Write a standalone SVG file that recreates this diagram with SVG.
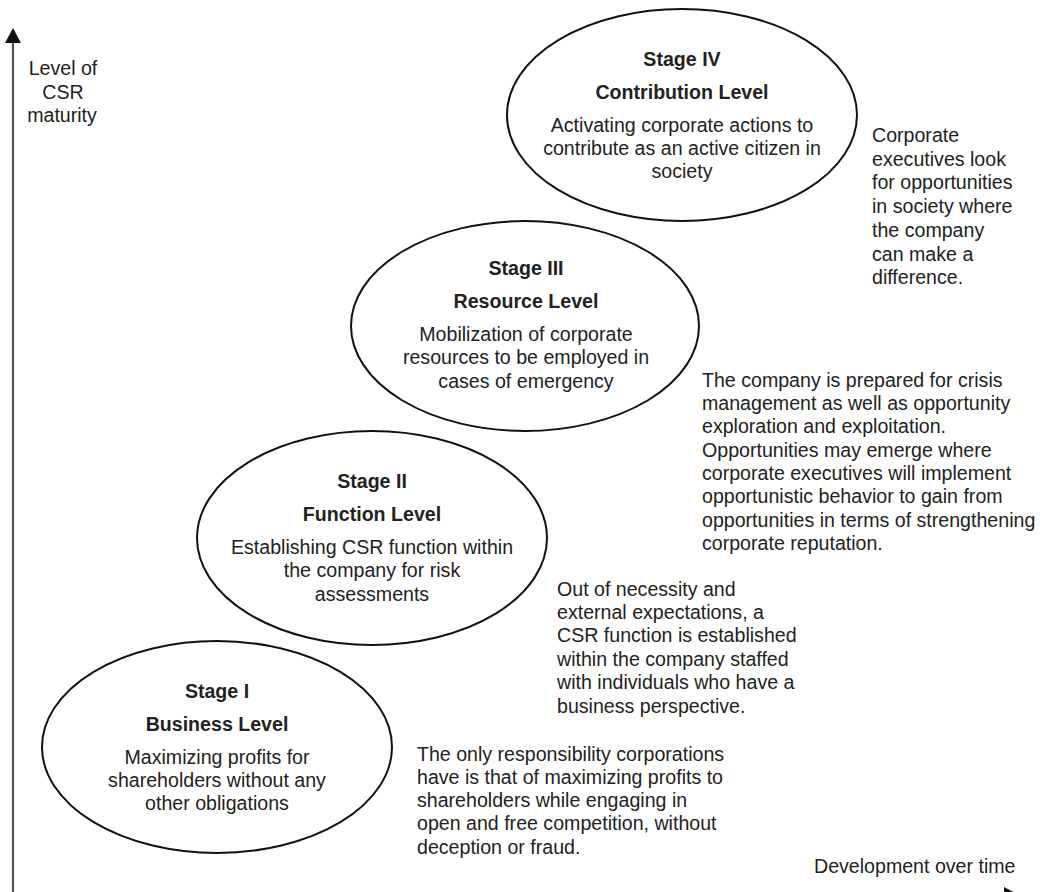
<svg xmlns="http://www.w3.org/2000/svg" width="1040" height="892" viewBox="0 0 1040 892">
<style>
text{font-family:"Liberation Sans",Arial,sans-serif;font-size:19.6px;fill:#222}
.t{font-weight:bold;text-anchor:middle}
.c{text-anchor:middle}
.e{fill:#fff;stroke:#111;stroke-width:2}
.ax{stroke:#555;stroke-width:2.2;fill:none}
</style>
<defs>
<marker id="ah" viewBox="0 0 16 16" refX="2" refY="8" markerWidth="16" markerHeight="16" markerUnits="userSpaceOnUse" orient="auto">
<path d="M0,0 L15,8 L0,16 Z" fill="#111"/>
</marker>
</defs>
<rect width="1040" height="892" fill="#fff"/>
<g id="connectors">
<line class="ax" x1="13" y1="900" x2="13" y2="41" marker-end="url(#ah)"/>
<line class="ax" x1="13" y1="895" x2="1006" y2="895" marker-end="url(#ah)"/>
</g>
<g id="axis-labels">
<text class="c" x="63" y="75">Level of</text>
<text class="c" x="63" y="99">CSR</text>
<text class="c" x="62" y="122">maturity</text>
<text x="814" y="873">Development over time</text>
</g>
<g id="stage1">
<ellipse class="e" cx="217" cy="747" rx="175" ry="106"/>
<text class="t" x="217" y="698">Stage I</text>
<text class="t" x="217" y="731">Business Level</text>
<text class="c" x="217" y="764">Maximizing profits for</text>
<text class="c" x="217" y="787">shareholders without any</text>
<text class="c" x="217" y="810">other obligations</text>
</g>
<g id="stage2">
<ellipse class="e" cx="372" cy="538" rx="175" ry="107"/>
<text class="t" x="372" y="488">Stage II</text>
<text class="t" x="372" y="521">Function Level</text>
<text class="c" x="372" y="554">Establishing CSR function within</text>
<text class="c" x="372" y="577">the company for risk</text>
<text class="c" x="372" y="601">assessments</text>
</g>
<g id="stage3">
<ellipse class="e" cx="525" cy="326" rx="174" ry="105"/>
<text class="t" x="526" y="275">Stage III</text>
<text class="t" x="526" y="308">Resource Level</text>
<text class="c" x="526" y="341">Mobilization of corporate</text>
<text class="c" x="526" y="364">resources to be employed in</text>
<text class="c" x="526" y="388">cases of emergency</text>
</g>
<g id="stage4">
<ellipse class="e" cx="682" cy="115" rx="175" ry="106"/>
<text class="t" x="682" y="66">Stage IV</text>
<text class="t" x="682" y="99">Contribution Level</text>
<text class="c" x="682" y="132">Activating corporate actions to</text>
<text class="c" x="682" y="155">contribute as an active citizen in</text>
<text class="c" x="682" y="178">society</text>
</g>
<g id="note1">
<text x="417" y="761">The only responsibility corporations</text>
<text x="417" y="784">have is that of maximizing profits to</text>
<text x="417" y="807">shareholders while engaging in</text>
<text x="417" y="830">open and free competition, without</text>
<text x="417" y="854">deception or fraud.</text>
</g>
<g id="note2">
<text x="557" y="596">Out of necessity and</text>
<text x="557" y="619">external expectations, a</text>
<text x="557" y="642">CSR function is established</text>
<text x="557" y="666">within the company staffed</text>
<text x="557" y="689">with individuals who have a</text>
<text x="557" y="713">business perspective.</text>
</g>
<g id="note3">
<text x="702" y="387">The company is prepared for crisis</text>
<text x="702" y="410">management as well as opportunity</text>
<text x="702" y="433">exploration and exploitation.</text>
<text x="702" y="457">Opportunities may emerge where</text>
<text x="702" y="480">corporate executives will implement</text>
<text x="702" y="503">opportunistic behavior to gain from</text>
<text x="702" y="527">opportunities in terms of strengthening</text>
<text x="702" y="550">corporate reputation.</text>
</g>
<g id="note4">
<text x="872" y="142">Corporate</text>
<text x="872" y="166">executives look</text>
<text x="872" y="189">for opportunities</text>
<text x="872" y="213">in society where</text>
<text x="872" y="237">the company</text>
<text x="872" y="261">can make a</text>
<text x="872" y="284">difference.</text>
</g>
</svg>
